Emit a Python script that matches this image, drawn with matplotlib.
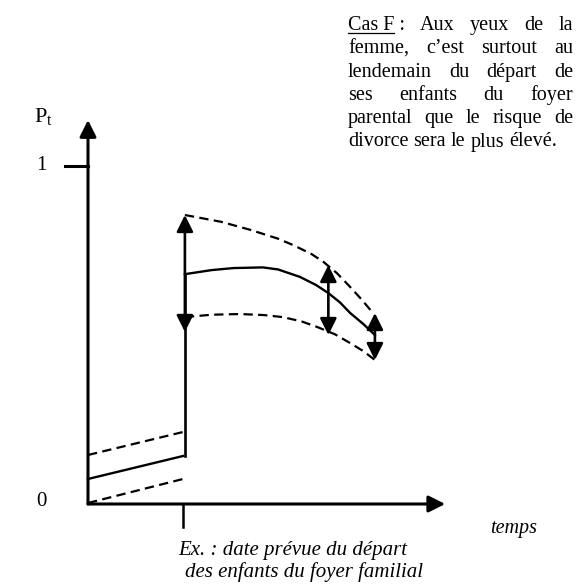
import matplotlib
matplotlib.use('Agg')
import matplotlib.pyplot as plt
import numpy as np

plt.rcParams['font.family'] = ['Liberation Serif', 'DejaVu Serif']
plt.rcParams['mathtext.fontset'] = 'custom'
plt.rcParams['mathtext.rm'] = 'Liberation Serif'

# temps (1 = date prevue du depart des enfants), probabilite P_t
t_avant = [0.0, 1.0]
p_avant = [0.074, 0.142]
haut_avant = [0.145, 0.213]
bas_avant = [0.003, 0.074]

t_apres = [1.02, 1.3, 1.53, 1.84, 2.0, 2.23, 2.4, 2.53, 2.65, 2.76, 2.9, 3.02]
p_apres = [0.680, 0.692, 0.698, 0.700, 0.694, 0.672, 0.648, 0.624, 0.597, 0.565, 0.532, 0.500]
t_haut = [1.02, 1.4, 1.71, 2.0, 2.16, 2.35, 2.48, 2.62, 2.76, 2.88, 3.00]
haut_apres = [0.855, 0.835, 0.811, 0.785, 0.766, 0.740, 0.716, 0.683, 0.642, 0.605, 0.565]
t_bas = [1.02, 1.3, 1.6, 1.85, 2.05, 2.25, 2.41, 2.6, 2.76, 2.9, 3.02]
bas_apres = [0.553, 0.560, 0.562, 0.559, 0.553, 0.540, 0.524, 0.502, 0.476, 0.452, 0.426]

# fleches d'incertitude
t_fleche = [1.02, 2.53, 3.02]
fleche_bas = [0.509, 0.500, 0.426]
fleche_haut = [0.855, 0.707, 0.565]

lignes_texte = ["Cas F : Aux yeux de la",
                "femme, c\u2019est surtout au",
                "lendemain du d\u00e9part de",
                "ses enfants du foyer",
                "parental que le risque de",
                "divorce sera le plus \u00e9lev\u00e9."]

W, H = 581, 588
fig = plt.figure(figsize=(W/100, H/100), dpi=100)
ax = fig.add_axes([0, 0, 1, 1])
# 0 -> px 88 / 1 -> px 183 ; 0 -> py 504 / 1 -> py 166
ax.set_xlim(-88/95, (W-88)/95)
ax.set_ylim(-(H-504)/338, 504/338)
ax.axis('off')

noir = 'black'
tirets = (0, (4.2, 2.4))
tete = '-|>,head_length=1.0,head_width=0.5'
tete2 = '<|-|>,head_length=1.0,head_width=0.5'
# axes avec fleches
ax.annotate('', xy=(3.76, 0), xytext=(0, 0),
            arrowprops=dict(arrowstyle=tete, lw=2.2, color=noir,
                            mutation_scale=10, shrinkA=0, shrinkB=0))
ax.annotate('', xy=(0, 1.136), xytext=(0, 0),
            arrowprops=dict(arrowstyle=tete, lw=2.2, color=noir,
                            mutation_scale=10, shrinkA=0, shrinkB=0))
ax.plot([-0.242, 0], [1, 1], color=noir, lw=2.2)
ax.plot([1, 1], [0, -0.068], color=noir, lw=1.8)

ax.text(-0.49, 1, '1', ha='center', va='center', fontsize=15)
ax.text(-0.49, 0.008, '0', ha='center', va='center', fontsize=15)
ax.text(-0.47, 1.13, r'$\mathrm{P}_{\mathrm{t}}$', ha='center', va='baseline', fontsize=16)

# avant le depart
ax.plot(t_avant, p_avant, color=noir, lw=1.7)
ax.plot(t_avant, haut_avant, color=noir, lw=1.6, ls=tirets)
ax.plot(t_avant, bas_avant, color=noir, lw=1.6, ls=tirets)

# saut
ax.plot([t_apres[0], t_apres[0]], [p_avant[-1], p_apres[0]], color=noir, lw=1.9)

# apres le depart
ax.plot(t_apres, p_apres, color=noir, lw=1.7)
ax.plot(t_haut, haut_apres, color=noir, lw=1.6, ls=tirets)
ax.plot(t_bas, bas_apres, color=noir, lw=1.6, ls=tirets)

for tf, b, h in zip(t_fleche, fleche_bas, fleche_haut):
    ax.annotate('', xy=(tf, h), xytext=(tf, b),
                arrowprops=dict(arrowstyle=tete2, lw=1.9, color=noir,
                                mutation_scale=10, shrinkA=0, shrinkB=0))

# legendes en italique
fig.text(490/W, 1-533/H, 'temps', style='italic', fontsize=14.5, va='baseline')
fig.text(178/W, 1-555/H, 'Ex. : date pr\u00e9vue du d\u00e9part', style='italic', fontsize=15, va='baseline')
fig.text(185/W, 1-577/H, 'des enfants du foyer familial', style='italic', fontsize=15, va='baseline')

# bloc de texte justifie
x0, x1 = 348, 573
base0, pas = 30, 23.3
fs = 14.5
fig.canvas.draw()
rend = fig.canvas.get_renderer()


def largeur(s):
    t = fig.text(0, 0, s, fontsize=fs)
    w = t.get_window_extent(rend).width
    t.remove()
    return w


esp_normal = largeur('a a') - 2*largeur('a')
for i, ligne in enumerate(lignes_texte):
    y = 1 - (base0 + i*pas)/H
    mots = ligne.split()
    if i == 0:
        # "Cas F" souligne, suivi de ":" colle
        mots = ['Cas F :'] + mots[3:]
    objs = [fig.text(0, y, m, fontsize=fs, va='baseline') for m in mots]
    larg = [o.get_window_extent(rend).width for o in objs]
    if i == len(lignes_texte) - 1:
        esp = esp_normal
    else:
        esp = (x1 - x0 - sum(larg)) / (len(mots) - 1)
    x = x0
    for o, w in zip(objs, larg):
        o.set_x(x/W)
        if o.get_text().startswith('Cas F'):
            wl = largeur('Cas F')
            fig.add_artist(plt.Line2D([x/W, (x+wl)/W], [y-2.5/H, y-2.5/H], color=noir, lw=0.9))
        x += w + esp

fig.savefig('out.png', dpi=100)
